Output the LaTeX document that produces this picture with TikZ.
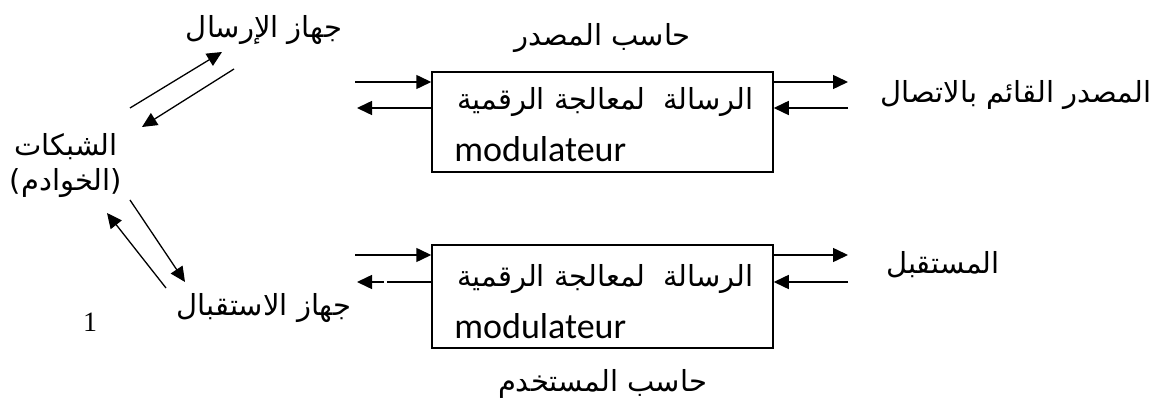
\documentclass[tikz,border=0pt]{standalone}
\usepackage{fontspec}
\setmainfont{Carlito}
\newfontfamily\arabicfont[Script=Arabic]{DejaVu Sans}
\newfontfamily\numfont{Liberation Serif}
\TeXXeTstate=1
\usetikzlibrary{positioning}
\usetikzlibrary{arrows.meta}
\newcommand{\artxt}[1]{\beginR #1\endR}

\begin{document}
\begin{tikzpicture}[
    x=1pt,y=-1pt,
    node distance=20pt,
    modbox/.style={rectangle,draw=black,line width=1.5pt,minimum width=341pt,minimum height=100pt},
    artext/.style={font=\fontsize{29}{33}\arabicfont,inner sep=0pt},
    latin/.style={font=\fontsize{36}{40}\selectfont,inner sep=0pt},
    arr/.style={line width=1.5pt,-{Triangle[length=15pt,width=14pt]}},
    darr/.style={line width=1.3pt,-{Triangle[length=15pt,width=14pt]}}
    ]
    \useasboundingbox (0,0) rectangle (1162,403);

    % the two computers
    \node (src) [modbox] at (602.5,122) {};
    \node (usr) [modbox,minimum height=103pt] at (602.5,296.5) {};
    \node (srcmsg) [artext,below left=16pt and 20pt of src.north east] {\artxt{الرسالة\hspace{0.6em}لمعالجة الرقمية}};
    \node (srcmod) [latin,below right=65pt and 23pt of src.north west] {modulateur};
    \node (usrmsg) [artext,below left=20pt and 20pt of usr.north east] {\artxt{الرسالة\hspace{0.6em}لمعالجة الرقمية}};
    \node (usrmod) [latin,below right=69pt and 23pt of usr.north west] {modulateur};
    \node (srchead) [artext,above=18pt of src] {\artxt{حاسب المصدر}};
    \node (usrfoot) [artext,below=21pt of usr] {\artxt{حاسب المستخدم}};

    % outer ends
    \node (conn) [artext] at (1016,95) {\artxt{المصدر القائم بالاتصال}};
    \node (recv) [artext] at (943,265) {\artxt{المستقبل}};
    \node (sender) [artext] at (264,30) {\artxt{جهاز الإرسال}};
    \node (receiver) [artext] at (264,308) {\artxt{جهاز الاستقبال}};
    \node (net) [artext,align=center] at (66,166) {\artxt{الشبكات}\\[2pt]\artxt{(الخوادم)}};
    \node (pg) [font=\fontsize{28}{30}\numfont,inner sep=0pt] at (90,322) {1};

    % arrows at the boxes
    \coordinate (srcLin) at (355,82);
    \coordinate (srcLout) at (357,108);
    \coordinate (srcRout) at (848,82);
    \coordinate (srcRin) at (848,108);
    \coordinate (usrLin) at (355,255);
    \coordinate (usrLout) at (357,282);
    \coordinate (usrLgap) at (387,282);
    \coordinate (usrRout) at (848,255);
    \coordinate (usrRin) at (848,282);
    \draw[arr] (srcLin) -- (srcLin -| src.west);
    \draw[arr] (srcLout -| src.west) -- (srcLout);
    \draw[arr] (srcRout -| src.east) -- (srcRout);
    \draw[arr] (srcRin) -- (srcRin -| src.east);
    \draw[arr] (usrLin) -- (usrLin -| usr.west);
    \draw[line width=1.5pt] (usrLout -| usr.west) -- (usrLgap);
    \draw[arr] ([xshift=-3pt]usrLgap) -- (usrLout);
    \draw[arr] (usrRout -| usr.east) -- (usrRout);
    \draw[arr] (usrRin) -- (usrRin -| usr.east);

    % arrows to the servers
    \coordinate (upA) at (130,108);
    \coordinate (upB) at (222,52);
    \coordinate (dnA) at (234,69);
    \coordinate (dnB) at (142,127);
    \coordinate (lowA) at (130,200);
    \coordinate (lowB) at (185,282);
    \coordinate (lowC) at (166,288);
    \coordinate (lowD) at (107,213);
    \draw[darr] (upA) -- (upB);
    \draw[darr] (dnA) -- (dnB);
    \draw[darr] (lowA) -- (lowB);
    \draw[darr] (lowC) -- (lowD);
\end{tikzpicture}
\end{document}
